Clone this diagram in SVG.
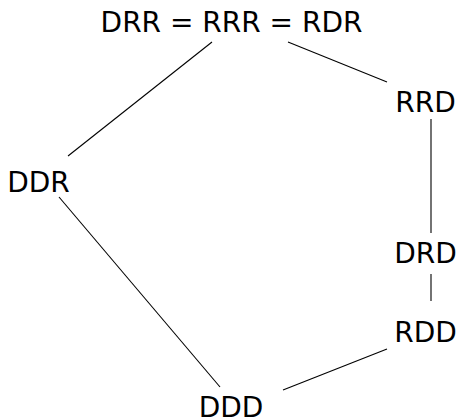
<svg xmlns="http://www.w3.org/2000/svg" width="458" height="418" viewBox="0 0 458 418">
<style>
text{font-family:"DejaVu Sans","Liberation Sans",sans-serif;font-size:28px;fill:#000;text-anchor:middle;}
.e{stroke:#000;stroke-width:1.1;fill:none;}
</style>
<rect width="458" height="418" fill="#fff"/>
<g id="edges">
<line class="e" x1="212" y1="42" x2="68" y2="156"/>
<line class="e" x1="288" y1="42" x2="387" y2="82"/>
<line class="e" x1="431" y1="119" x2="431" y2="233"/>
<line class="e" x1="431" y1="274" x2="431" y2="301"/>
<line class="e" x1="387" y1="349" x2="283" y2="390"/>
<line class="e" x1="59" y1="197" x2="220" y2="387"/>
</g>
<g id="top"><text x="231.5" y="32">DRR = RRR = RDR</text></g>
<g id="RRD"><text x="425.5" y="112">RRD</text></g>
<g id="DDR"><text x="38.5" y="192">DDR</text></g>
<g id="DRD"><text x="425.5" y="263">DRD</text></g>
<g id="RDD"><text x="425.5" y="342">RDD</text></g>
<g id="DDD"><text x="231" y="417">DDD</text></g>
</svg>
